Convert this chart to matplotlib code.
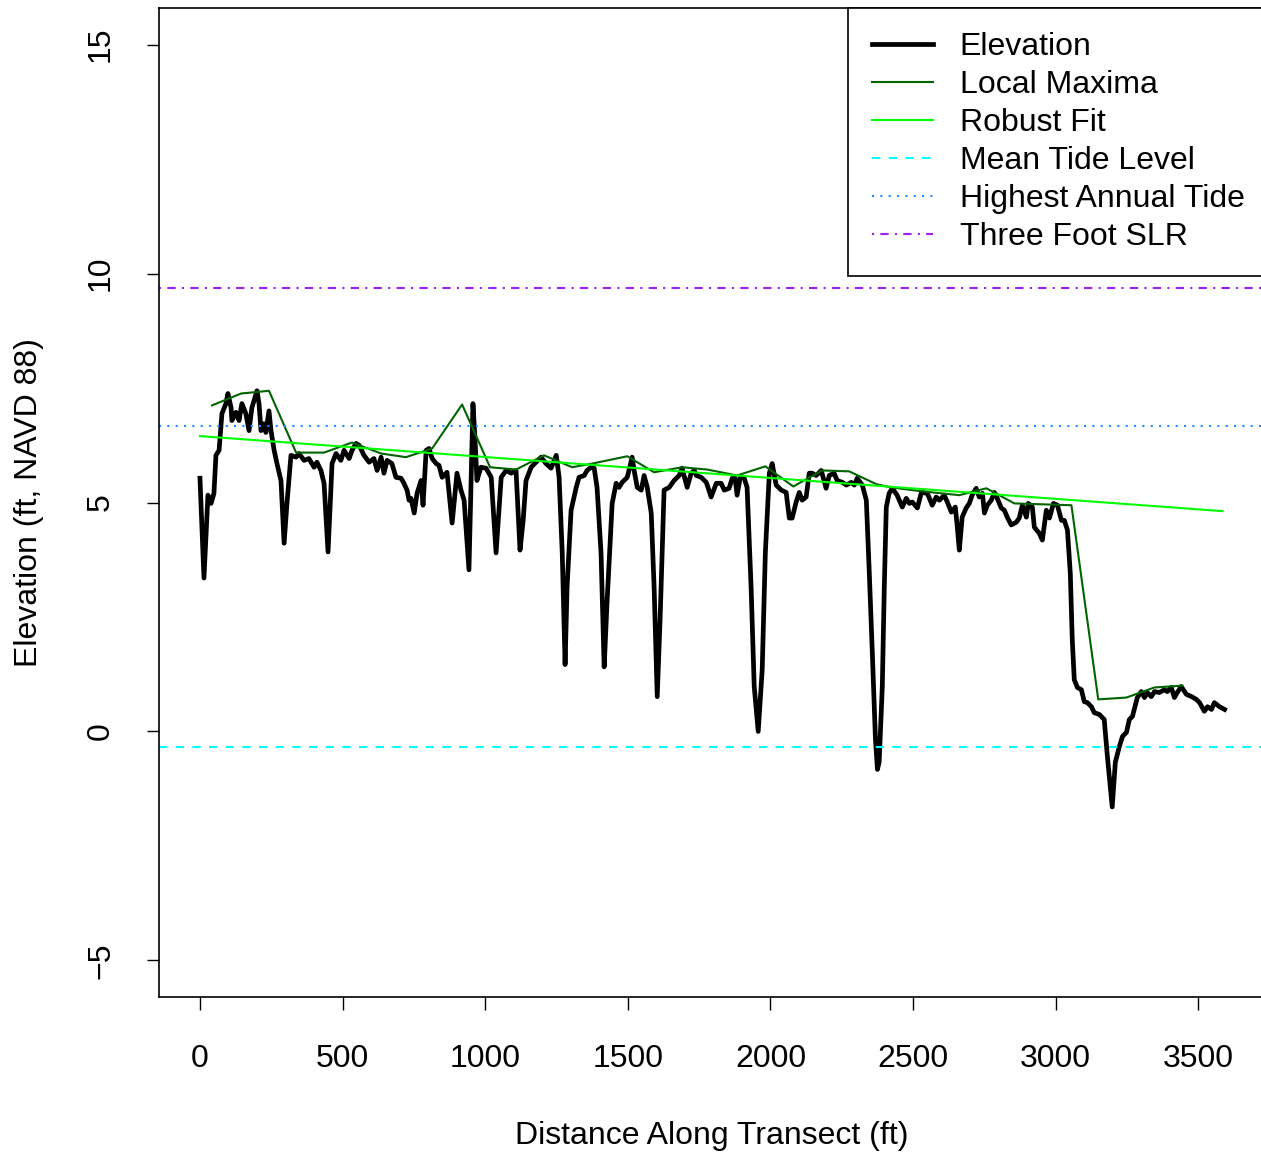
import matplotlib
matplotlib.use("Agg")
import matplotlib.pyplot as plt
import numpy as np

plt.rcParams['font.family'] = ['Liberation Sans', 'DejaVu Sans']

# elevation profile along the transect (ft, ft NAVD 88)
dist = [0, 14, 28, 39, 49, 56, 67, 77, 91, 98, 109, 112, 126, 137, 147, 161, 172, 182, 200, 207,
        214, 224, 231, 242, 249, 260, 270, 284, 295, 305, 319, 337, 347, 365, 382, 400, 410, 424, 435, 449,
        463, 477, 494, 505, 523, 533, 547, 558, 575, 593, 610, 621, 635, 645, 656, 673, 687, 705, 715, 726,
        733, 740, 751, 761, 775, 782, 793, 803, 814, 828, 838, 849, 866, 884, 901, 915, 926, 943, 957, 964,
        971, 985, 1003, 1021, 1038, 1056, 1073, 1091, 1108, 1122, 1133, 1143, 1161, 1178, 1196, 1213, 1231, 1249, 1259, 1270,
        1280, 1287, 1301, 1319, 1329, 1347, 1357, 1371, 1382, 1392, 1406, 1417, 1427, 1445, 1459, 1469, 1480, 1498, 1515, 1522,
        1533, 1547, 1557, 1568, 1582, 1592, 1603, 1613, 1627, 1645, 1662, 1680, 1690, 1708, 1722, 1733, 1740, 1757, 1775, 1792,
        1810, 1827, 1838, 1855, 1866, 1876, 1883, 1894, 1908, 1918, 1932, 1943, 1957, 1971, 1982, 1996, 2006, 2020, 2038, 2055,
        2066, 2076, 2090, 2101, 2111, 2125, 2136, 2146, 2160, 2178, 2195, 2206, 2223, 2234, 2252, 2266, 2283, 2294, 2304, 2322,
        2336, 2346, 2357, 2368, 2375, 2381, 2392, 2399, 2406, 2416, 2427, 2444, 2462, 2476, 2487, 2497, 2515, 2529, 2550, 2567,
        2581, 2592, 2609, 2620, 2634, 2648, 2655, 2662, 2672, 2686, 2697, 2707, 2721, 2732, 2743, 2750, 2760, 2774, 2785, 2795,
        2809, 2820, 2830, 2844, 2862, 2872, 2883, 2897, 2904, 2918, 2925, 2942, 2953, 2967, 2978, 2992, 3006, 3020, 3030, 3041,
        3051, 3058, 3065, 3076, 3090, 3100, 3111, 3125, 3135, 3153, 3170, 3181, 3198, 3209, 3223, 3234, 3248, 3258, 3269, 3286,
        3300, 3311, 3321, 3335, 3346, 3363, 3381, 3391, 3405, 3416, 3426, 3440, 3458, 3476, 3493, 3504, 3521, 3532, 3546, 3556,
        3574, 3592]
elev = [5.53, 3.35, 5.16, 4.98, 5.20, 6.03, 6.14, 6.94, 7.16, 7.38, 7.07, 6.79, 6.97, 6.79, 7.16, 6.94, 6.57, 7.07, 7.44, 7.16,
        6.57, 6.72, 6.53, 7.00, 6.57, 6.14, 5.85, 5.48, 4.11, 4.98, 6.03, 5.99, 6.07, 5.92, 5.96, 5.77, 5.88, 5.70, 5.42, 3.92,
        5.85, 6.07, 5.92, 6.14, 5.96, 6.14, 6.29, 6.25, 6.03, 5.88, 5.96, 5.70, 5.99, 5.64, 5.92, 5.85, 5.55, 5.53, 5.42, 5.27,
        5.05, 5.09, 4.77, 5.20, 5.48, 4.94, 6.14, 6.18, 5.96, 5.85, 5.81, 5.55, 5.66, 4.55, 5.64, 5.27, 5.05, 3.53, 7.16, 6.42,
        5.48, 5.77, 5.75, 5.55, 3.90, 5.55, 5.70, 5.64, 5.70, 3.96, 4.61, 5.48, 5.77, 5.88, 5.99, 5.85, 5.75, 6.03, 5.55, 3.90,
        1.46, 3.16, 4.83, 5.33, 5.55, 5.59, 5.70, 5.77, 5.75, 5.33, 3.90, 1.41, 2.81, 4.98, 5.42, 5.33, 5.44, 5.55, 5.99, 5.70,
        5.33, 5.27, 5.59, 5.33, 4.77, 3.16, 0.76, 2.44, 5.27, 5.33, 5.48, 5.59, 5.75, 5.33, 5.64, 5.70, 5.59, 5.55, 5.44, 5.12,
        5.42, 5.42, 5.27, 5.31, 5.53, 5.53, 5.16, 5.55, 5.53, 5.33, 3.16, 0.98, 0.00, 1.35, 3.90, 5.64, 5.85, 5.38, 5.27, 5.22,
        4.66, 4.66, 5.01, 5.22, 5.05, 5.12, 5.64, 5.64, 5.59, 5.70, 5.31, 5.59, 5.64, 5.48, 5.44, 5.38, 5.44, 5.38, 5.53, 5.38,
        5.05, 3.53, 1.72, -0.17, -0.83, -0.67, 0.98, 3.16, 4.90, 5.20, 5.31, 5.16, 4.90, 5.09, 4.98, 5.01, 4.88, 5.22, 5.20, 4.94,
        5.12, 5.05, 5.16, 5.01, 4.79, 4.90, 4.46, 3.96, 4.68, 4.88, 4.98, 5.16, 5.31, 5.12, 5.20, 4.77, 4.94, 5.05, 5.22, 5.09,
        4.88, 4.83, 4.68, 4.51, 4.57, 4.66, 4.94, 4.68, 4.98, 4.90, 4.46, 4.33, 4.18, 4.83, 4.66, 4.98, 4.94, 4.61, 4.61, 4.40,
        3.46, 2.00, 1.13, 0.96, 0.91, 0.65, 0.63, 0.54, 0.41, 0.37, 0.26, -0.54, -1.65, -0.67, -0.33, -0.11, -0.02, 0.26, 0.33, 0.74,
        0.87, 0.74, 0.85, 0.76, 0.87, 0.85, 0.91, 0.87, 0.96, 0.74, 0.85, 0.98, 0.81, 0.76, 0.70, 0.63, 0.44, 0.54, 0.48, 0.63,
        0.54, 0.48]

# local maxima envelope
max_dist = [42, 144, 242, 337, 435, 533, 635, 722, 814, 919, 1017, 1108, 1206, 1305, 1375, 1498, 1592, 1690,
            1778, 1883, 1982, 2080, 2181, 2276, 2371, 2423, 2522, 2662, 2757, 2855, 3055, 3149, 3248, 3346, 3444]
max_elev = [7.12, 7.38, 7.44, 6.09, 6.09, 6.31, 6.07, 5.99, 6.18, 7.14, 5.77, 5.72, 6.03, 5.77, 5.85, 6.01, 5.66, 5.77,
            5.72, 5.59, 5.79, 5.35, 5.70, 5.68, 5.40, 5.33, 5.25, 5.16, 5.31, 4.98, 4.94, 0.70, 0.74, 0.96, 1.00]

# robust fit line
fit_dist = [0, 3585]
fit_intercept = 6.45
fit_slope = -0.000457

mean_tide = -0.35
highest_tide = 6.68
slr = 3.0

fig = plt.figure(figsize=(12.61, 11.53), dpi=100)
ax = fig.add_axes([159/1261, 156/1153, (1265-159)/1261, (997-8)/1153])

ax.plot(dist, elev, color='black', lw=3.4, solid_joinstyle='round', label='Elevation')
ax.plot(max_dist, max_elev, color='#006400', lw=1.5, label='Local Maxima')
fx = np.array(fit_dist)
ax.plot(fx, fit_intercept + fit_slope * fx, color='#00FF00', lw=1.5, label='Robust Fit')
ax.axhline(mean_tide, color='cyan', lw=1.5, dashes=(4, 4), label='Mean Tide Level')
ax.axhline(highest_tide, color='dodgerblue', lw=1.5, dashes=(1, 3), label='Highest Annual Tide')
ax.axhline(highest_tide + slr, color='#A020F0', lw=1.5, dashes=(1, 3, 4, 3), label='Three Foot SLR')

ax.set_xlim(-143.6, 3733.6)
ax.set_ylim(-5.8, 15.8)
ax.set_xticks([0, 500, 1000, 1500, 2000, 2500, 3000, 3500])
ax.set_yticks([-5, 0, 5, 10, 15])
ax.tick_params(labelsize=23, length=9, width=1, pad=22)
ax.tick_params(axis='x', pad=25)
for lab in ax.get_yticklabels():
    lab.set_rotation(90)
    lab.set_va('center')
for s in ax.spines.values():
    s.set_linewidth(1.2)

ax.set_xlabel('Distance Along Transect (ft)', fontsize=23, labelpad=34)
ax.set_ylabel('Elevation (ft, NAVD 88)', fontsize=23, labelpad=30)

leg = ax.legend(loc='upper left', bbox_to_anchor=(848/1261, 1 - 8/1153),
                bbox_transform=fig.transFigure, fontsize=23, frameon=True,
                fancybox=False, edgecolor='black', framealpha=1,
                handlelength=1.9, handletextpad=0.85, labelspacing=0.25,
                borderpad=0.75, borderaxespad=0)
leg.get_frame().set_linewidth(1.2)

fig.savefig('out.png', dpi=100)
